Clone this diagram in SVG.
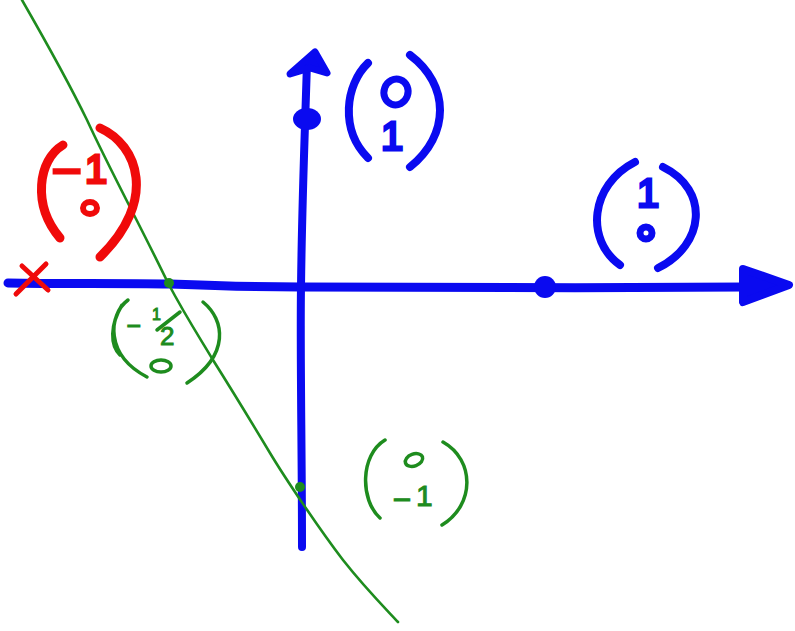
<svg xmlns="http://www.w3.org/2000/svg" width="795" height="631" viewBox="0 0 795 631">
<style>
.b{stroke:#0a0af0;fill:none;stroke-linecap:round;stroke-linejoin:round}
.r{stroke:#f00a0a;fill:none;stroke-linecap:round;stroke-linejoin:round}
.g{stroke:#1e8c1e;fill:none;stroke-linecap:round;stroke-linejoin:round}
.fb{fill:#0a0af0}
.tb{font-family:"Liberation Sans",Arial,sans-serif;fill:#0a0af0;stroke:#0a0af0;stroke-width:3}
.tr{font-family:"Liberation Sans",Arial,sans-serif;fill:#f00a0a;stroke:#f00a0a;stroke-width:3}
.tg{font-family:"Liberation Sans",Arial,sans-serif;fill:#1e8c1e;stroke:#1e8c1e;stroke-width:1}
</style>
<rect width="795" height="631" fill="#ffffff"/>
<g id="axes">
<path class="b" stroke-width="9" d="M8,283 C60,284 120,283 170,284 C220,286 260,287 300,287 C420,288 600,288 745,287"/>
<path class="b fb" stroke-width="8" d="M743,269 L789,285 L743,302 Z"/>
<circle class="fb" cx="545" cy="287" r="11"/>
<path class="b" stroke-width="8" d="M302,547 C302,450 300,350 301,287 C302,200 305,130 307,62"/>
<path class="b fb" stroke-width="7" d="M290,74 L315,52 L327,73 L310,68 Z"/>
<ellipse class="fb" cx="307" cy="119" rx="14" ry="11"/>
</g>
<g id="line">
<path class="g" stroke-width="2.6" d="M22,0 C45,40 70,85 87,120 C110,170 140,225 168,283 C185,315 198,335 213,360 C235,395 255,428 270,453 C285,478 320,530 343,560 C365,588 385,608 398,622"/>
<circle cx="169" cy="283" r="5" fill="#1e8c1e"/>
<circle cx="300" cy="487" r="5" fill="#1e8c1e"/>
</g>
<g id="mark-x">
<path class="r" stroke-width="5" d="M22,266 L48,290 M46,264 L16,294"/>
</g>
<g id="vec-red">
<path class="r" stroke-width="9" d="M63,145 C38,160 32,205 60,238"/>
<path class="r" stroke-width="9" d="M100,128 C138,145 158,200 100,257"/>
<text class="tr" font-size="40" transform="translate(52,182) scale(2.2,1)">-</text>
<text class="tr" x="85" y="183" font-size="40">1</text>
<ellipse class="r" stroke-width="6" cx="90" cy="208" rx="7" ry="6"/>
</g>
<g id="vec-green-x">
<path class="g" stroke-width="3.5" d="M128,300 C108,315 105,355 147,377 M122,305 C110,325 110,345 120,355"/>
<path class="g" stroke-width="3.5" d="M203,302 C225,320 230,355 187,383"/>
<text class="tg" font-size="26" transform="translate(126,333) scale(1.8,1)">-</text>
<text class="tg" font-size="26"><tspan x="152" y="320" font-size="16">1</tspan><tspan x="160" y="345">2</tspan></text>
<path class="g" stroke-width="3.5" d="M180,312 L157,330"/>
<ellipse class="g" stroke-width="3.5" cx="161" cy="366" rx="10" ry="6"/>
</g>
<g id="vec-blue-y">
<path class="b" stroke-width="8" d="M368,63 C345,85 340,130 368,158"/>
<path class="b" stroke-width="8" d="M410,55 C450,85 450,135 410,167"/>
<ellipse class="b" stroke-width="7" cx="396" cy="92" rx="12" ry="13" transform="rotate(20 396 92)"/>
<text class="tb" x="381" y="150" font-size="40">1</text>
</g>
<g id="vec-blue-x">
<path class="b" stroke-width="8" d="M635,162 C590,185 585,240 620,265"/>
<path class="b" stroke-width="8" d="M663,167 C710,190 705,245 658,268"/>
<text class="tb" x="637" y="207" font-size="40">1</text>
<circle class="b" stroke-width="7" cx="646" cy="233" r="6"/>
</g>
<g id="vec-green-y">
<path class="g" stroke-width="3.5" d="M385,440 C360,455 360,500 380,518"/>
<path class="g" stroke-width="3.5" d="M443,442 C475,460 475,505 442,525"/>
<ellipse class="g" stroke-width="3.5" cx="414" cy="460" rx="9" ry="6" transform="rotate(-20 414 460)"/>
<text class="tg" font-size="30" transform="translate(392,508) scale(2,1)">-</text>
<text class="tg" x="416" y="506" font-size="30">1</text>
</g>
</svg>
